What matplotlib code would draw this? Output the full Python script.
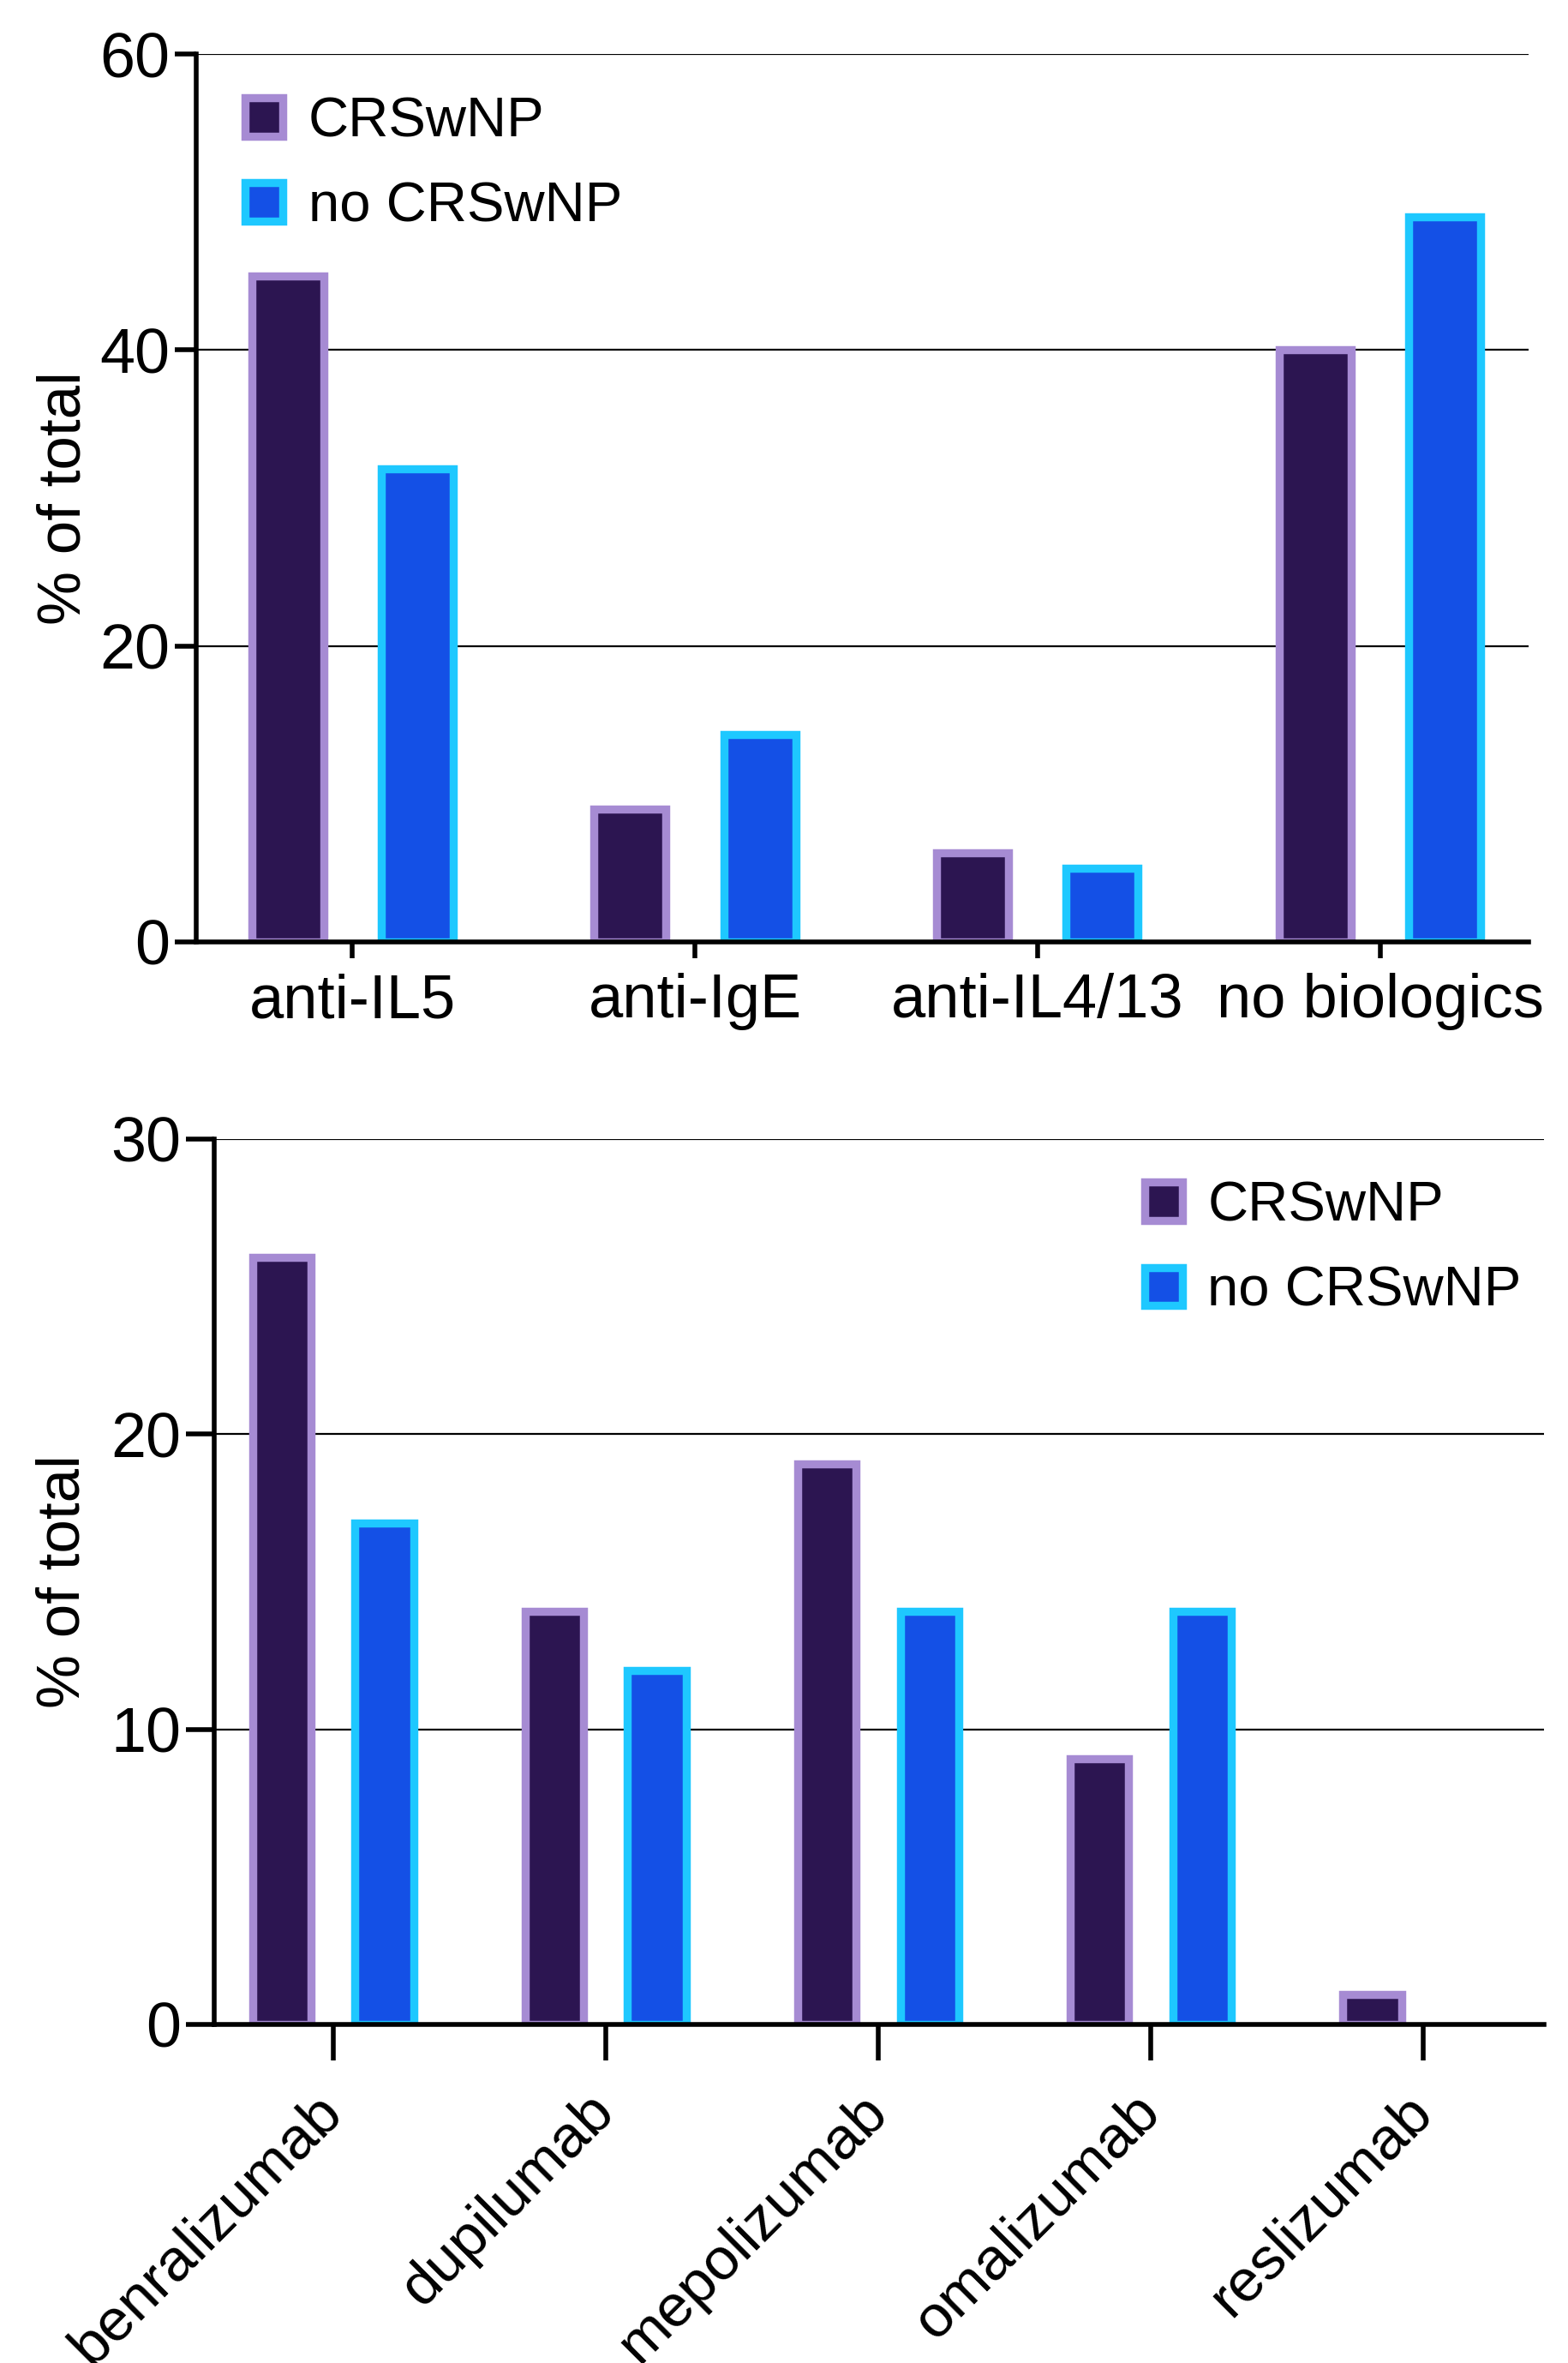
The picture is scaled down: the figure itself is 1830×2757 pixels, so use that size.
import matplotlib.pyplot as plt
import numpy as np

plt.rcParams['font.family'] = ['Liberation Sans', 'DejaVu Sans']

# данные верхнего графика
classes = ['anti-IL5', 'anti-IgE', 'anti-IL4/13', 'no biologics']
class_crs = [45, 9, 6, 40]
class_no_crs = [32, 14, 5, 49]

# данные нижнего графика
drugs = ['benralizumab', 'dupilumab', 'mepolizumab', 'omalizumab', 'reslizumab']
drug_crs = [26, 14, 19, 9, 1]
drug_no_crs = [17, 12, 14, 14, 0]

series = ['CRSwNP', 'no CRSwNP']
fills = ['#2C1551', '#1450E6']
edges = ['#A68BD3', '#1EC8FF']


def bars(ax, labels, a, b, width, shift, edge_lw):
    """Рисует сгруппированные столбцы для двух групп пациентов"""
    x = np.arange(len(labels))
    for vals, off, fc, ec, name in zip([a, b], [-shift, shift], fills, edges, series):
        cont = ax.bar(x + off, vals, width, color=fc, edgecolor=ec, linewidth=edge_lw,
                      label=name, zorder=3)
        # нулевые столбцы не видны
        for p, v in zip(cont.patches, vals):
            if v == 0:
                p.set_visible(False)
    ax.set_xticks(x)
    ax.grid(axis='y', color='black', linewidth=0.8, zorder=0)
    for s in ['top', 'right']:
        ax.spines[s].set_visible(False)
    for s in ['left', 'bottom']:
        ax.spines[s].set_linewidth(2.0)
        ax.spines[s].set_zorder(4)
    ax.set_ylabel('% of total', fontsize=25.5)
    return x


fig = plt.figure(figsize=(9.15, 13.785), dpi=200)

# верхний график
ax1 = fig.add_axes([0.125, 0.6014, 0.85, 0.3757])
x1 = bars(ax1, classes, class_crs, class_no_crs, 0.21, 0.189, 3.4)
ax1.set_xlim(-0.456, 3.434)
ax1.set_ylim(0, 60)
ax1.set_yticks([0, 20, 40, 60])
ax1.set_xticklabels(classes, fontsize=26)
ax1.tick_params(axis='y', labelsize=26.5, length=9, width=2.0, pad=2)
ax1.tick_params(axis='x', length=7, width=2.0, pad=6)
ax1.yaxis.set_label_coords(-0.077, 0.5)
ax1.legend(loc='upper left', bbox_to_anchor=(0.02, 0.978), frameon=False, fontsize=23.5,
           handlelength=0.68, handleheight=0.68, handletextpad=0.45, labelspacing=0.6,
           borderaxespad=0)

# нижний график
ax2 = fig.add_axes([0.1366, 0.1433, 0.848, 0.3747])
x2 = bars(ax2, drugs, drug_crs, drug_no_crs, 0.215, 0.188, 3.4)
ax2.set_xlim(-0.436, 4.442)
ax2.set_ylim(0, 30)
ax2.set_yticks([0, 10, 20, 30])
ax2.set_xticklabels(drugs, fontsize=25, rotation=45, ha='right', va='center',
                    rotation_mode='anchor')
ax2.tick_params(axis='y', labelsize=26.5, length=12, width=2.0, pad=2)
ax2.tick_params(axis='x', length=15, width=2.0, pad=18)
ax2.yaxis.set_label_coords(-0.092, 0.5)
ax2.legend(loc='upper right', bbox_to_anchor=(1.0, 0.978), frameon=False, fontsize=23.5,
           handlelength=0.68, handleheight=0.68, handletextpad=0.45, labelspacing=0.6,
           borderaxespad=0)

plt.savefig('out.png', dpi=200)
